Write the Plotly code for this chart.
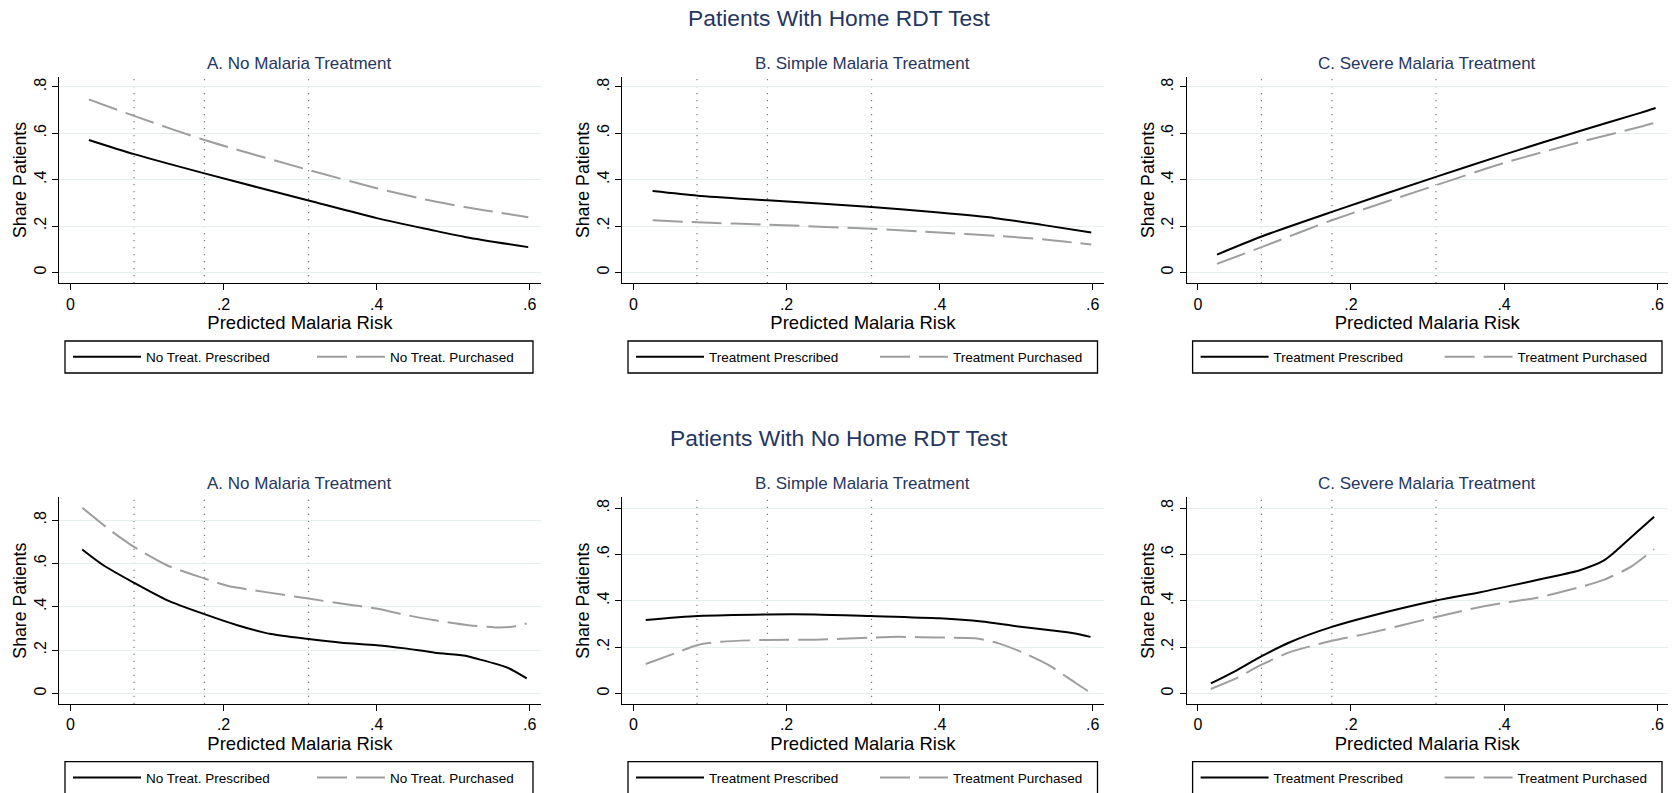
import plotly.graph_objects as go

# ---------------- data ----------------
panel_titles = ["A. No Malaria Treatment", "B. Simple Malaria Treatment", "C. Severe Malaria Treatment"]
row_titles = ["Patients With Home RDT Test", "Patients With No Home RDT Test"]
legend_prescribed = ["No Treat. Prescribed", "Treatment Prescribed", "Treatment Prescribed"]
legend_purchased = ["No Treat. Purchased", "Treatment Purchased", "Treatment Purchased"]
risk_cutoffs = [0.083, 0.175, 0.311]
x_ticks = [0, 0.2, 0.4, 0.6]
x_tick_text = ["0", ".2", ".4", ".6"]
y_ticks = [0, 0.2, 0.4, 0.6, 0.8]
y_tick_text = ["0", ".2", ".4", ".6", ".8"]

# Row 1: home RDT test
home_a_x = [0.024, 0.083, 0.175, 0.311, 0.400, 0.470, 0.517, 0.598]
home_a_prescribed = [0.571, 0.510, 0.427, 0.310, 0.234, 0.184, 0.152, 0.109]
home_a_purchased = [0.746, 0.675, 0.571, 0.442, 0.363, 0.310, 0.281, 0.238]

home_b_x = [0.025, 0.084, 0.175, 0.311, 0.399, 0.473, 0.534, 0.598]
home_b_prescribed = [0.351, 0.331, 0.311, 0.282, 0.258, 0.234, 0.205, 0.172]
home_b_purchased = [0.225, 0.216, 0.206, 0.188, 0.172, 0.158, 0.143, 0.120]

home_c_x = [0.025, 0.084, 0.175, 0.311, 0.400, 0.499, 0.578, 0.598]
home_c_prescribed = [0.077, 0.156, 0.261, 0.412, 0.508, 0.610, 0.688, 0.709]
home_c_purchased = [0.037, 0.110, 0.225, 0.376, 0.472, 0.562, 0.628, 0.646]

# Row 2: no home RDT test
nohome_a_prescribed_x = [0.0153, 0.043, 0.083, 0.126, 0.175, 0.218, 0.262, 0.311, 0.354, 0.400, 0.437, 0.476, 0.516, 0.529, 0.570, 0.596]
nohome_a_prescribed = [0.665, 0.592, 0.511, 0.431, 0.366, 0.315, 0.274, 0.251, 0.234, 0.223, 0.208, 0.188, 0.174, 0.162, 0.120, 0.069]
nohome_a_purchased_x = [0.0153, 0.052, 0.083, 0.126, 0.175, 0.205, 0.253, 0.311, 0.367, 0.400, 0.433, 0.476, 0.520, 0.555, 0.577, 0.596]
nohome_a_purchased = [0.858, 0.754, 0.677, 0.592, 0.531, 0.497, 0.469, 0.438, 0.408, 0.392, 0.366, 0.338, 0.315, 0.305, 0.308, 0.323]

nohome_b_prescribed_x = [0.016, 0.084, 0.175, 0.237, 0.310, 0.400, 0.455, 0.498, 0.542, 0.577, 0.597]
nohome_b_prescribed = [0.317, 0.334, 0.341, 0.341, 0.334, 0.324, 0.310, 0.291, 0.274, 0.259, 0.244]
nohome_b_purchased_x = [0.016, 0.054, 0.084, 0.115, 0.175, 0.237, 0.310, 0.346, 0.400, 0.446, 0.477, 0.511, 0.542, 0.577, 0.595]
nohome_b_purchased = [0.127, 0.173, 0.209, 0.223, 0.231, 0.232, 0.241, 0.244, 0.241, 0.238, 0.216, 0.173, 0.123, 0.046, 0.007]

nohome_c_prescribed_x = [0.017, 0.047, 0.084, 0.121, 0.175, 0.221, 0.311, 0.369, 0.400, 0.456, 0.499, 0.530, 0.543, 0.578, 0.596]
nohome_c_prescribed = [0.043, 0.093, 0.162, 0.222, 0.287, 0.330, 0.401, 0.437, 0.459, 0.499, 0.532, 0.573, 0.606, 0.710, 0.763]
nohome_c_purchased_x = [0.017, 0.047, 0.084, 0.121, 0.175, 0.221, 0.311, 0.369, 0.400, 0.443, 0.499, 0.530, 0.565, 0.578, 0.596]
nohome_c_purchased = [0.019, 0.060, 0.125, 0.179, 0.227, 0.258, 0.330, 0.373, 0.391, 0.413, 0.459, 0.490, 0.545, 0.576, 0.624]

panels = [
    (home_a_x, home_a_prescribed, home_a_x, home_a_purchased),
    (home_b_x, home_b_prescribed, home_b_x, home_b_purchased),
    (home_c_x, home_c_prescribed, home_c_x, home_c_purchased),
    (nohome_a_prescribed_x, nohome_a_prescribed, nohome_a_purchased_x, nohome_a_purchased),
    (nohome_b_prescribed_x, nohome_b_prescribed, nohome_b_purchased_x, nohome_b_purchased),
    (nohome_c_prescribed_x, nohome_c_prescribed, nohome_c_purchased_x, nohome_c_purchased),
]

# ---------------- layout geometry ----------------
W, H = 1674, 793
FONT = "Liberation Sans, Arial, Helvetica, sans-serif"
NAVY = "#25365f"
col_px = [(59.3, 540.5), (622.3, 1103.5), (1186.7, 1667.9)]
row_px = [(76.7, 283.3), (497.3, 704.0)]
x_range = [-0.0146, 0.614]
y_ranges = [[[-0.047, 0.844]] * 3, [[-0.049, 0.906], [-0.046, 0.847], [-0.046, 0.847]]]
legend_box_x_px = [(65, 533), (628, 1097.5), (1192.6, 1662)]
legend_box_y_px = [(341, 373), (761.7, 794)]
subtitle_y_px = [63, 483.3]
rowtitle_y_px = [18, 438.3]

fig = go.Figure()
layout = dict(
    width=W, height=H,
    margin=dict(l=0, r=0, t=0, b=0, autoexpand=False),
    paper_bgcolor="white", plot_bgcolor="white",
    font=dict(family=FONT, color="black"),
    annotations=[], shapes=[],
)

for i, (xp, yp, xq, yq) in enumerate(panels):
    r, c = divmod(i, 3)
    n = i + 1
    xa = "x" if n == 1 else f"x{n}"
    ya = "y" if n == 1 else f"y{n}"
    lg = "legend" if n == 1 else f"legend{n}"
    fig.add_trace(go.Scatter(
        x=xp, y=yp, mode="lines", name=legend_prescribed[c],
        line=dict(color="black", width=2, shape="spline", smoothing=0.7),
        xaxis=xa, yaxis=ya, legend=lg, showlegend=True))
    fig.add_trace(go.Scatter(
        x=xq, y=yq, mode="lines", name=legend_purchased[c],
        line=dict(color="#9e9e9e", width=2, dash="30px,9px", shape="spline", smoothing=0.7),
        xaxis=xa, yaxis=ya, legend=lg, showlegend=True))

    x0, x1 = col_px[c]
    yt, yb = row_px[r]
    layout[f"xaxis{'' if n == 1 else n}"] = dict(
        domain=[x0 / W, x1 / W], anchor=ya, range=x_range,
        tickvals=x_ticks, ticktext=x_tick_text, ticks="outside", ticklen=6,
        tickcolor="black", tickwidth=1, showline=True, linecolor="black", linewidth=1,
        showgrid=False, zeroline=False, tickfont=dict(size=16, family=FONT),
        title=dict(text="Predicted Malaria Risk", font=dict(size=18.5, family=FONT), standoff=2),
    )
    layout[f"yaxis{'' if n == 1 else n}"] = dict(
        domain=[1 - yb / H, 1 - yt / H], anchor=xa, range=y_ranges[r][c],
        tickvals=y_ticks, ticktext=y_tick_text, ticks="outside", ticklen=6,
        tickcolor="black", tickwidth=1, tickangle=-90, showline=True, linecolor="black",
        linewidth=1, showgrid=True, gridcolor="#e6eef0", gridwidth=1, zeroline=False,
        tickfont=dict(size=16, family=FONT),
        title=dict(text="Share Patients", font=dict(size=17.7, family=FONT), standoff=0),
    )
    for cut in risk_cutoffs:
        layout["shapes"].append(dict(
            type="line", xref=xa, yref=f"{ya} domain", x0=cut, x1=cut, y0=0, y1=1,
            line=dict(color="#7a7a7a", width=1.2, dash="1.2px,5.8px"), layer="below"))
    layout["annotations"].append(dict(
        text=panel_titles[c], xref="paper", yref="paper",
        x=(x0 + x1) / 2 / W, y=1 - subtitle_y_px[r] / H, xanchor="center", yanchor="middle",
        showarrow=False, font=dict(size=17, color=NAVY, family=FONT)))
    bx0, bx1 = legend_box_x_px[c]
    by0, by1 = legend_box_y_px[r]
    layout["shapes"].append(dict(
        type="rect", xref="paper", yref="paper", x0=bx0 / W, x1=bx1 / W,
        y0=1 - by1 / H, y1=1 - by0 / H, line=dict(color="black", width=1.3),
        fillcolor="white", layer="above"))
    layout[lg] = dict(
        orientation="h", x=(bx0 + 3) / W, y=1 - (by0 + 16) / H,
        xanchor="left", yanchor="middle", borderwidth=0,
        bgcolor="rgba(0,0,0,0)", font=dict(size=13.5, family=FONT), entrywidth=161,
        itemwidth=68, traceorder="normal")

for r in range(2):
    layout["annotations"].append(dict(
        text=row_titles[r], xref="paper", yref="paper", x=839 / W, y=1 - rowtitle_y_px[r] / H,
        xanchor="center", yanchor="middle", showarrow=False,
        font=dict(size=22.8, color=NAVY, family=FONT)))

fig.update_layout(**layout)
fig.write_html("out.html", config={"displayModeBar": False},
               post_script="document.body.style.margin='0px';")
